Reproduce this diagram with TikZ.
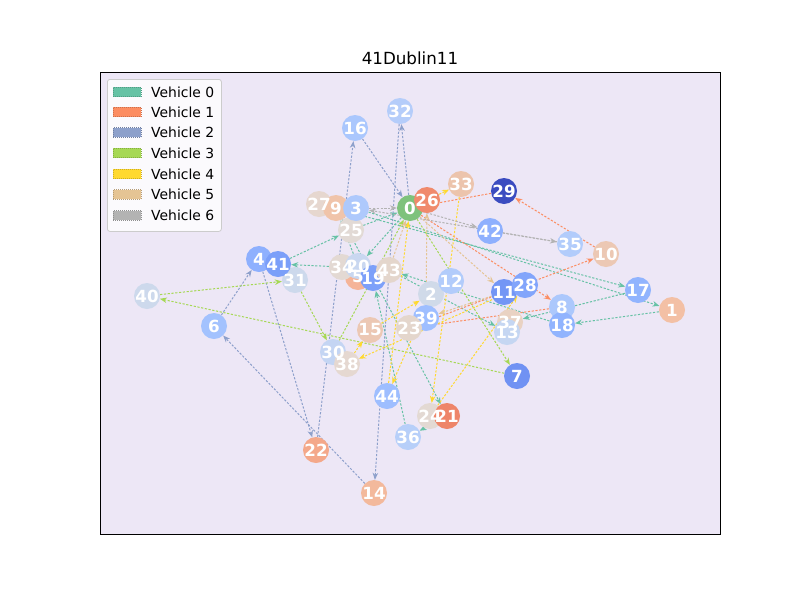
\documentclass[tikz,border=0pt]{standalone}
\usepackage{fontspec}
\setmainfont{DejaVu Sans}
\usetikzlibrary{arrows.meta}
\pgfdeclarelayer{bg}
\pgfdeclarelayer{edges}
\pgfsetlayers{bg,edges,main}
\definecolor{axbg}{RGB}{237,231,246}
\definecolor{vzero}{HTML}{66C2A5}
\definecolor{vone}{HTML}{FC8D62}
\definecolor{vtwo}{HTML}{8DA0CB}
\definecolor{vthree}{HTML}{A6D854}
\definecolor{vfour}{HTML}{FFD92F}
\definecolor{vfive}{HTML}{E5C494}
\definecolor{vsix}{HTML}{B3B3B3}
\definecolor{cdepot}{RGB}{126,194,124}
\definecolor{cA}{RGB}{240,138,108}
\definecolor{cB}{RGB}{236,196,172}
\definecolor{cC}{RGB}{59,76,192}
\definecolor{cD}{RGB}{142,176,254}
\definecolor{cE}{RGB}{178,204,251}
\definecolor{cF}{RGB}{236,200,180}
\definecolor{cG}{RGB}{145,180,254}
\definecolor{cH}{RGB}{243,192,165}
\definecolor{cI}{RGB}{172,200,252}
\definecolor{cJ}{RGB}{130,165,251}
\definecolor{cK}{RGB}{115,150,245}
\definecolor{cL}{RGB}{233,210,195}
\definecolor{cM}{RGB}{197,214,242}
\definecolor{cN}{RGB}{112,146,243}
\definecolor{cO}{RGB}{208,218,233}
\definecolor{cP}{RGB}{158,190,255}
\definecolor{cQ}{RGB}{228,214,204}
\definecolor{cR}{RGB}{229,216,209}
\definecolor{cS}{RGB}{227,217,211}
\definecolor{cT}{RGB}{238,133,105}
\definecolor{cU}{RGB}{183,207,249}
\definecolor{cV}{RGB}{244,168,138}
\definecolor{cW}{RGB}{243,185,156}
\definecolor{cX}{RGB}{163,194,254}
\definecolor{cY}{RGB}{205,217,236}
\definecolor{cZ}{RGB}{123,159,249}
\definecolor{cAA}{RGB}{201,215,240}
\definecolor{cAB}{RGB}{245,180,152}
\definecolor{cAC}{RGB}{125,160,249}
\definecolor{cAD}{RGB}{226,218,213}
\definecolor{cAE}{RGB}{230,215,207}
\definecolor{cAF}{RGB}{240,196,170}
\definecolor{cAG}{RGB}{174,201,252}
\definecolor{cAH}{RGB}{170,199,253}
\definecolor{cAI}{RGB}{181,205,250}
\definecolor{cAJ}{RGB}{196,213,243}
\tikzset{
  vnode/.style={circle, minimum size=26pt, inner sep=0pt, fill=#1},
  vlabel/.style={text=white, font=\fontsize{16.7}{18}\selectfont\bfseries, inner sep=0pt},
  route/.style={draw=#1, line width=1pt, dash pattern=on 2.2pt off 1.6pt,
    -{Stealth[length=7pt,width=5.5pt]}},
  legpatch/.style={minimum width=28pt, minimum height=9.5pt, inner sep=0pt,
    fill=#1, draw=#1!80!black, line width=0.6pt, dash pattern=on 1pt off 1pt},
  legtext/.style={anchor=west, inner sep=0pt, font=\fontsize{13.9}{16}\selectfont},
}
\begin{document}
\begin{tikzpicture}[x=1pt,y=-1pt]
\useasboundingbox (0,0) rectangle (800,600);
\begin{pgfonlayer}{bg}
\fill[white] (0,0) rectangle (800,600);
\fill[axbg] (100,72) rectangle (720,534);
\end{pgfonlayer}
% nodes (circles)
\node (n0) [vnode=cdepot] at (410,208) {};
\node (n26) [vnode=cA] at (427,200) {};
\node (n33) [vnode=cB] at (461,184) {};
\node (n29) [vnode=cC] at (504,191) {};
\node (n42) [vnode=cD] at (490,231) {};
\node (n35) [vnode=cE] at (570,244) {};
\node (n10) [vnode=cF] at (606,254) {};
\node (n17) [vnode=cG] at (638,290) {};
\node (n1) [vnode=cH] at (672,310) {};
\node (n37) [vnode=cL] at (510,322) {};
\node (n13) [vnode=cM] at (507,332) {};
\node (n8) [vnode=cI] at (562,307) {};
\node (n18) [vnode=cG] at (562,325) {};
\node (n11) [vnode=cK] at (504,292) {};
\node (n28) [vnode=cJ] at (525,285) {};
\node (n7) [vnode=cN] at (517,376) {};
\node (n2) [vnode=cO] at (431,294) {};
\node (n12) [vnode=cE] at (451,281) {};
\node (n39) [vnode=cP] at (426,318) {};
\node (n23) [vnode=cQ] at (409,328) {};
\node (n15) [vnode=cF] at (370,330) {};
\node (n30) [vnode=cAJ] at (333,352) {};
\node (n38) [vnode=cR] at (347,364) {};
\node (n44) [vnode=cP] at (387,396) {};
\node (n24) [vnode=cS] at (430,416) {};
\node (n21) [vnode=cT] at (447,416) {};
\node (n36) [vnode=cU] at (408,437) {};
\node (n22) [vnode=cV] at (316,450) {};
\node (n14) [vnode=cW] at (374,493) {};
\node (n6) [vnode=cX] at (214,326) {};
\node (n40) [vnode=cY] at (147,296) {};
\node (n31) [vnode=cY] at (295,280) {};
\node (n4) [vnode=cD] at (259,259) {};
\node (n41) [vnode=cZ] at (278,264) {};
\node (n5) [vnode=cAB] at (358,277) {};
\node (n34) [vnode=cS] at (342,267) {};
\node (n20) [vnode=cAA] at (358,266) {};
\node (n19) [vnode=cAC] at (373,278) {};
\node (n43) [vnode=cQ] at (389,270) {};
\node (n25) [vnode=cAD] at (351,230) {};
\node (n27) [vnode=cAE] at (319,204) {};
\node (n9) [vnode=cAF] at (336,208) {};
\node (n3) [vnode=cAG] at (356,208) {};
\node (n16) [vnode=cAH] at (355,128) {};
\node (n32) [vnode=cAI] at (400,111) {};
% labels
\foreach \k in {0,1,2,3,4,5,6,7,8,9,10,11,12,13,14,15,16,17,18,19,20,21,22,23,24,25,26,27,28,29,30,31,32,33,34,35,36,37,38,39,40,41,42,43,44}{
  \node (l\k) [vlabel] at (n\k) {\k};
}
% edges
\begin{pgfonlayer}{edges}
% vehicle 0
\draw[route=vzero] (n0) -- (n20);
\draw[route=vzero] (n20) -- (n9);
\draw[route=vzero] (n9) -- (n21);
\draw[route=vzero] (n21) -- (n36);
\draw[route=vzero] (n36) -- (n19);
\draw[route=vzero] (n5) -- (n34);
\draw[route=vzero] (n34) -- (n41);
\draw[route=vzero] (n41) -- (n25);
\draw[route=vzero] (n25) -- (n0);
\draw[route=vzero] (n27) -- (n17);
\draw[route=vzero] (n17) -- (n37);
\draw[route=vzero] (n3) -- (n1);
\draw[route=vzero] (n1) -- (n18);
\draw[route=vzero] (n18) -- (n43);
\draw[route=vzero] (n43) -- (n13);
% vehicle 1
\draw[route=vone] (n0) -- (n8);
\draw[route=vone] (n8) -- (n23);
\draw[route=vone] (n23) -- (n10);
\draw[route=vone] (n10) -- (n29);
\draw[route=vone] (n29) -- (n0);
% vehicle 2
\draw[route=vtwo] (n0) -- (n32);
\draw[route=vtwo] (n32) -- (n14);
\draw[route=vtwo] (n14) -- (n6);
\draw[route=vtwo] (n6) -- (n4);
\draw[route=vtwo] (n4) -- (n22);
\draw[route=vtwo] (n22) -- (n16);
\draw[route=vtwo] (n16) -- (n0);
% vehicle 3
\draw[route=vthree] (n0) -- (n7);
\draw[route=vthree] (n7) -- (n40);
\draw[route=vthree] (n40) -- (n31);
\draw[route=vthree] (n31) -- (n30);
\draw[route=vthree] (n30) -- (n0);
% vehicle 4
\draw[route=vfour] (n0) -- (n33);
\draw[route=vfour] (n33) -- (n24);
\draw[route=vfour] (n24) -- (n28);
\draw[route=vfour] (n28) -- (n38);
\draw[route=vfour] (n38) -- (n15);
\draw[route=vfour] (n15) -- (n2);
\draw[route=vfour] (n2) -- (n44);
\draw[route=vfour] (n44) -- (n0);
% vehicle 5
\draw[route=vfive] (n0) -- (n11);
\draw[route=vfive] (n11) -- (n39);
\draw[route=vfive] (n39) -- (n26);
\draw[route=vfive] (n43) -- (n0);
% vehicle 6
\draw[route=vsix] (n0) -- (n42);
\draw[route=vsix] (n42) -- (n35);
\draw[route=vsix] (n35) -- (n3);
\draw[route=vsix] (n3) -- (n0);
\end{pgfonlayer}
% frame and title
\draw[line width=1pt] (100,72) rectangle (720,534);
\node (title) at (410,58) {\fontsize{16.7}{20}\selectfont 41Dublin11};
% legend
\node (legbox) [anchor=north west, minimum width=114pt, minimum height=152pt,
  draw=black!20, line width=0.8pt, rounded corners=2.5pt, fill=white, fill opacity=0.8] at (107,79) {};
\node (pk0) [legpatch=vzero] at (127,92) {};
\node (pk1) [legpatch=vone] at (127,112) {};
\node (pk2) [legpatch=vtwo] at (127,132.5) {};
\node (pk3) [legpatch=vthree] at (127,153) {};
\node (pk4) [legpatch=vfour] at (127,174) {};
\node (pk5) [legpatch=vfive] at (127,194.5) {};
\node (pk6) [legpatch=vsix] at (127,215.5) {};
\node (tk0) [legtext] at (151,92) {Vehicle 0};
\node (tk1) [legtext] at (151,112) {Vehicle 1};
\node (tk2) [legtext] at (151,132.5) {Vehicle 2};
\node (tk3) [legtext] at (151,153) {Vehicle 3};
\node (tk4) [legtext] at (151,174) {Vehicle 4};
\node (tk5) [legtext] at (151,194.5) {Vehicle 5};
\node (tk6) [legtext] at (151,215.5) {Vehicle 6};
\end{tikzpicture}
\end{document}
